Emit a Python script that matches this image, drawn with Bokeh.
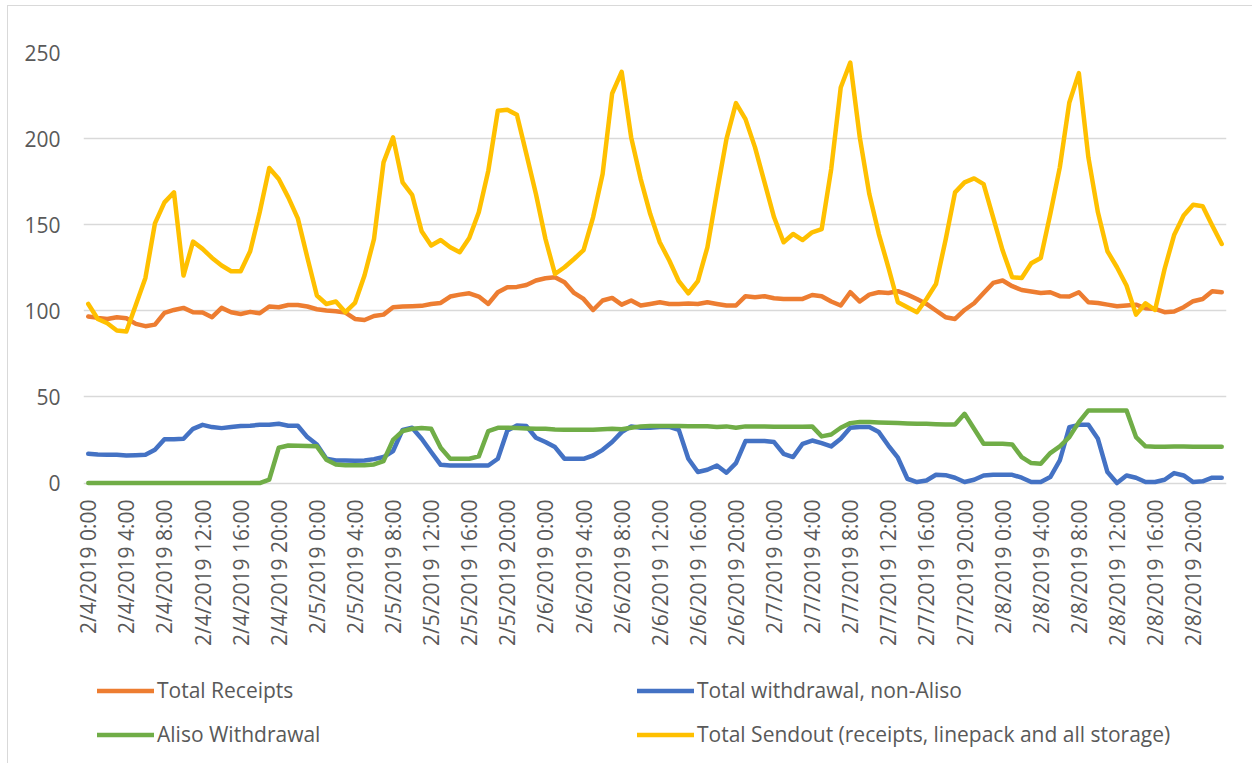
import math
from bokeh.plotting import figure
from bokeh.layouts import column
from bokeh.models import (ColumnDataSource, Range1d, FixedTicker,
                          Legend, LegendItem)
from bokeh.embed import file_html
from bokeh.resources import INLINE

# ---------------- data (hourly, 2/4/2019 0:00 .. 2/8/2019 23:00) ----------------
hours = [f"2/{4 + k // 24}/2019 {k % 24}:00" for k in range(120)]
hour_index = list(range(len(hours)))
tick_positions = hour_index[::4]
tick_labels = {k: hours[k] for k in tick_positions}

total_receipts = [
    96.7, 95.9, 95.3, 96.3, 95.7, 92.4, 91.1, 92.0, 98.8, 100.5,
    101.7, 99.2, 99.0, 96.3, 101.7, 99.2, 98.2, 99.4, 98.6, 102.5,
    102.1, 103.4, 103.4, 102.5, 100.9, 100.2, 99.8, 99.0, 95.3, 94.7,
    97.0, 97.8, 102.1, 102.5, 102.7, 102.9, 104.0, 104.6, 108.3, 109.4,
    110.2, 108.3, 104.0, 110.8, 113.7, 113.9, 115.0, 117.6, 118.9, 119.5,
    116.6, 110.4, 106.9, 100.5, 106.0, 107.5, 103.6, 106.0, 103.1, 104.0,
    105.0, 104.0, 104.0, 104.2, 104.0, 105.0, 104.0, 103.1, 103.1, 108.5,
    107.9, 108.5, 107.3, 106.9, 106.9, 106.9, 109.2, 108.5, 105.4, 103.1,
    110.8, 105.4, 109.4, 110.8, 110.4, 111.4, 109.4, 106.9, 104.0, 100.2,
    96.3, 95.3, 100.5, 104.4, 110.4, 116.2, 117.6, 114.3, 112.1, 111.2,
    110.4, 110.8, 108.5, 108.3, 110.8, 105.0, 104.6, 103.6, 102.7, 103.1,
    103.6, 101.5, 101.1, 99.2, 99.6, 102.1, 105.6, 106.9, 111.4, 110.8,
]

withdrawal_non_aliso = [
    17.0, 16.6, 16.4, 16.4, 16.0, 16.2, 16.4, 19.3, 25.5, 25.5,
    25.7, 31.5, 33.8, 32.5, 31.9, 32.5, 33.1, 33.3, 33.8, 33.8,
    34.4, 33.3, 33.3, 26.7, 22.4, 14.1, 13.1, 13.1, 13.0, 13.1,
    13.9, 15.1, 18.6, 30.9, 32.1, 25.7, 18.0, 10.6, 10.2, 10.2,
    10.2, 10.2, 10.2, 14.1, 30.5, 33.4, 33.1, 26.3, 23.8, 20.9,
    14.1, 14.1, 14.1, 16.0, 19.3, 23.8, 29.6, 32.9, 32.1, 32.1,
    32.5, 32.7, 30.9, 14.1, 6.4, 7.7, 10.2, 6.0, 11.6, 24.4,
    24.4, 24.4, 23.8, 17.0, 15.1, 22.8, 24.7, 23.2, 21.3, 25.7,
    32.1, 32.5, 32.5, 29.6, 21.8, 14.7, 2.5, 0.6, 1.5, 4.8,
    4.6, 3.1, 0.6, 1.9, 4.4, 4.8, 4.8, 4.8, 3.1, 0.6,
    0.6, 3.5, 13.1, 32.5, 33.8, 33.8, 25.7, 6.4, 0.0, 4.4,
    3.1, 0.6, 0.6, 1.9, 5.8, 4.4, 0.6, 1.0, 3.1, 3.1,
]

aliso_withdrawal = [
    0, 0, 0, 0, 0, 0, 0, 0, 0, 0,
    0, 0, 0, 0, 0, 0, 0, 0, 0, 2.0,
    20.5, 21.8, 21.7, 21.5, 21.3, 13.5, 10.8, 10.4, 10.4, 10.4,
    10.8, 12.8, 25.1, 30.2, 31.5, 31.9, 31.5, 20.5, 14.1, 14.1,
    14.1, 15.5, 30.2, 32.1, 32.1, 31.9, 31.7, 31.5, 31.5, 31.1,
    30.9, 30.9, 30.9, 30.9, 31.3, 31.5, 31.3, 32.1, 32.9, 33.1,
    33.1, 33.1, 33.1, 33.0, 33.0, 33.0, 32.6, 32.9, 32.1, 32.9,
    32.9, 32.9, 32.7, 32.7, 32.7, 32.7, 32.9, 27.1, 28.2, 32.1,
    34.8, 35.4, 35.4, 35.2, 35.0, 34.8, 34.6, 34.4, 34.4, 34.2,
    34.0, 34.0, 40.2, 31.5, 22.8, 22.8, 22.8, 22.4, 15.1, 11.6,
    11.2, 17.4, 21.3, 26.7, 35.4, 42.2, 42.2, 42.2, 42.2, 42.2,
    26.7, 21.3, 21.1, 21.1, 21.2, 21.2, 21.1, 21.1, 21.1, 21.1,
]

total_sendout = [
    104.0, 95.3, 92.8, 88.6, 88.0, 103.6, 119.1, 150.8, 163.0, 168.8,
    120.5, 140.2, 136.0, 130.7, 126.3, 123.0, 123.0, 134.6, 157.2, 182.9,
    176.5, 165.9, 153.7, 131.0, 108.9, 104.0, 105.4, 99.2, 104.6, 120.5,
    141.7, 186.2, 200.7, 174.6, 167.4, 146.2, 137.9, 141.1, 136.9, 134.0,
    142.3, 157.2, 181.4, 216.2, 216.7, 213.8, 191.0, 167.8, 141.7, 121.4,
    125.3, 130.1, 135.3, 154.3, 179.4, 226.2, 238.8, 200.7, 176.5, 156.2,
    139.8, 129.2, 117.2, 110.2, 117.2, 136.9, 168.8, 199.7, 220.6, 211.3,
    194.9, 174.6, 154.3, 139.8, 144.6, 141.1, 145.6, 147.5, 182.3, 229.7,
    244.2, 200.7, 167.8, 144.6, 125.3, 105.0, 102.1, 99.2, 106.9, 115.6,
    141.0, 168.8, 174.6, 176.9, 173.6, 154.3, 135.0, 119.5, 119.1, 127.6,
    130.7, 156.2, 183.3, 221.0, 238.0, 189.1, 157.2, 134.6, 125.3, 114.7,
    97.8, 104.4, 100.5, 124.3, 144.0, 155.3, 161.6, 160.7, 149.5, 138.8,
]

series_names = ["Total Receipts", "Total withdrawal, non-Aliso",
                "Aliso Withdrawal",
                "Total Sendout (receipts, linepack and all storage)"]
series_keys = ["receipts", "non_aliso", "aliso", "sendout"]
series_colors = ["#ED7D31", "#4472C4", "#70AD47", "#FFC000"]
y_ticks = [0, 50, 100, 150, 200, 250]

source = ColumnDataSource(data=dict(
    idx=hour_index,
    hour=hours,
    receipts=total_receipts,
    non_aliso=withdrawal_non_aliso,
    aliso=aliso_withdrawal,
    sendout=total_sendout,
))

FONT = "Open Sans"
TEXT_COLOR = "#595959"
GRID_COLOR = "#D9D9D9"
LINE_W = 4.5

TOP_H = 660              # chart part
BOTTOM_H = 763 - TOP_H   # legend part

def grey_edges(top=True):
    imgs = ["linear-gradient(#D9D9D9, #D9D9D9)"]
    pos = ["7px 5px" if top else "7px 0px"]
    size = ["1px 100%"]
    if top:
        imgs.append("linear-gradient(#D9D9D9, #D9D9D9)")
        pos.append("7px 5px")
        size.append("100% 1px")
    return {
        "background-color": "white",
        "background-image": ", ".join(imgs),
        "background-position": ", ".join(pos),
        "background-size": ", ".join(size),
        "background-repeat": "no-repeat",
    }

# ---------------- main chart ----------------
p = figure(width=1252, height=TOP_H, output_backend="svg", toolbar_location=None,
           x_range=Range1d(-0.5, len(hours) - 0.5), y_range=Range1d(-2, 250))
p.min_border_left = 83
p.min_border_right = 26
p.min_border_top = 52
p.min_border_bottom = TOP_H - 486
p.outline_line_color = None
p.background_fill_color = "white"
p.border_fill_color = None
p.styles = grey_edges(top=True)

renderers = {}
for key, color in zip(series_keys, series_colors):
    renderers[key] = p.line(x="idx", y=key, source=source, line_color=color,
                            line_width=LINE_W, line_join="round", line_cap="round")

p.xgrid.grid_line_color = None
p.ygrid.grid_line_color = GRID_COLOR
p.ygrid.grid_line_width = 1.5
p.yaxis.ticker = FixedTicker(ticks=y_ticks)
p.ygrid.ticker = FixedTicker(ticks=y_ticks)
p.xaxis.ticker = FixedTicker(ticks=tick_positions)

for ax in (p.xaxis[0], p.yaxis[0]):
    ax.axis_line_color = None
    ax.major_tick_line_color = None
    ax.minor_tick_line_color = None
    ax.major_tick_out = 0
    ax.major_tick_in = 0
    ax.minor_tick_out = 0
    ax.minor_tick_in = 0
    ax.major_label_text_font = FONT
    ax.major_label_text_font_size = "21px"
    ax.major_label_text_color = TEXT_COLOR

p.yaxis.major_label_standoff = 23
p.xaxis.major_label_standoff = 13
p.xaxis.major_label_orientation = math.pi / 2
p.xaxis.major_label_overrides = tick_labels

# ---------------- legend strip ----------------
# the series are drawn here too, but the ranges keep them out of view:
# only their legend swatches show
lp = figure(width=1252, height=BOTTOM_H, output_backend="svg", toolbar_location=None,
            x_range=Range1d(-1000, -999), y_range=Range1d(-1000, -999),
            x_axis_location=None, y_axis_location=None)
lp.min_border_left = 0
lp.min_border_right = 0
lp.min_border_top = 0
lp.min_border_bottom = 0
lp.outline_line_color = None
lp.xgrid.grid_line_color = None
lp.ygrid.grid_line_color = None
lp.background_fill_color = None
lp.border_fill_color = None
lp.styles = grey_edges(top=False)

swatch = {}
for key, color in zip(series_keys, series_colors):
    swatch[key] = lp.line(x="idx", y=key, source=source, line_color=color,
                          line_width=LINE_W, line_join="round", line_cap="round")

LEG_H = 41 + 3 + 41
def make_legend(keys, names, loc):
    lg = Legend(items=[LegendItem(label=n, renderers=[swatch[k]])
                       for k, n in zip(keys, names)],
                location=loc, orientation="vertical")
    lg.border_line_color = None
    lg.background_fill_alpha = 0
    lg.padding = 0
    lg.margin = 0
    lg.spacing = 3
    lg.glyph_width = 57
    lg.glyph_height = 41
    lg.label_height = 41
    lg.label_standoff = 3
    lg.label_text_font = FONT
    lg.label_text_font_size = "21px"
    lg.label_text_color = TEXT_COLOR
    return lg

leg_top = 690 - 20.5 - TOP_H          # first row centred at page y = 690
leg_y = BOTTOM_H - leg_top - LEG_H
lp.add_layout(make_legend(["receipts", "aliso"], [series_names[0], series_names[2]],
                          (14, leg_y)), "center")
lp.add_layout(make_legend(["non_aliso", "sendout"], [series_names[1], series_names[3]],
                          (554, leg_y)), "center")

layout = column(p, lp, spacing=0)
open("out.html", "w").write(file_html(layout, INLINE))
